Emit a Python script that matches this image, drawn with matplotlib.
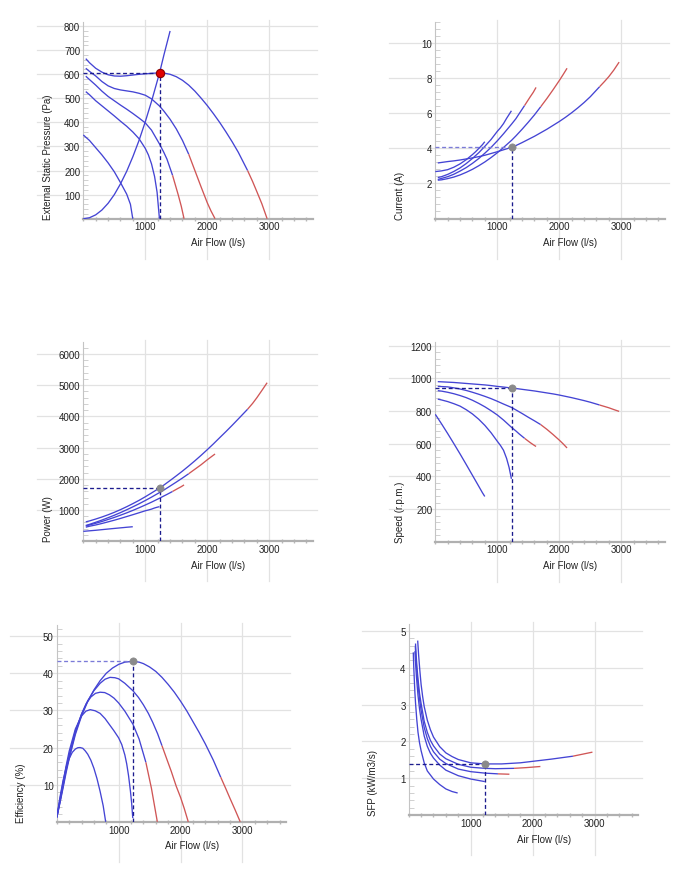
import matplotlib
matplotlib.use('Agg')
import matplotlib.pyplot as plt
from matplotlib.ticker import MultipleLocator

plt.rcParams['font.family'] = ['Liberation Sans', 'DejaVu Sans']

# ---------------- data ----------------
op_flow = 1230
op_pressure = 606
op_current = 4.05
op_power = 1705
op_speed = 941
op_eff = 43.2
op_sfp = 1.39

x_ticks = [1000, 2000, 3000]

# red (out of range) segments start at these flows
red_from_A = 2650
red_from_B = 1700
red_from_C = 1440

# curve A
flow_A = [40, 100, 200, 300, 400, 500, 600, 700, 800, 900, 1000, 1100, 1230, 1300, 1400, 1500,
          1600, 1700, 1800, 1900, 2000, 2100, 2200, 2300, 2400, 2500, 2650, 2730, 2800, 2880, 2965]
pressure_A = [665, 648, 625, 609, 598, 593, 592, 594, 597, 600, 602, 604, 606, 605, 600, 590,
              575, 555, 530, 501, 470, 436, 400, 361, 320, 276, 200, 155, 112, 62, 0]
current_A = [3.16, 3.19, 3.24, 3.28, 3.33, 3.39, 3.45, 3.52, 3.6, 3.7, 3.8, 3.91, 4.05, 4.15, 4.32, 4.5,
             4.68, 4.88, 5.08, 5.3, 5.52, 5.76, 6.02, 6.3, 6.6, 6.93, 7.5, 7.8, 8.08, 8.45, 8.9]
power_A = [620, 650, 710, 775, 847, 925, 1012, 1105, 1205, 1310, 1424, 1545, 1705, 1800, 1945, 2095,
           2248, 2410, 2577, 2752, 2934, 3122, 3318, 3512, 3712, 3918, 4230, 4415, 4600, 4830, 5080]
speed_A = [980, 979, 977, 975, 972, 969, 966, 963, 960, 956, 951, 947, 941, 938, 933, 928,
           923, 917, 911, 905, 898, 890, 882, 873, 864, 854, 837, 828, 820, 809, 798]

# curve B
flow_B = [40, 100, 200, 300, 400, 500, 600, 700, 800, 900, 1000, 1100, 1230, 1300, 1400, 1500,
          1600, 1700, 1800, 1900, 2000, 2060, 2125]
pressure_B = [625, 612, 593, 570, 552, 541, 535, 531, 527, 521, 513, 498, 468, 447, 413, 373,
              325, 268, 200, 132, 66, 32, 0]
current_B = [2.18, 2.2, 2.27, 2.36, 2.48, 2.63, 2.8, 3.0, 3.22, 3.47, 3.74, 4.04, 4.45, 4.7, 5.08, 5.48,
             5.9, 6.36, 6.83, 7.33, 7.85, 8.18, 8.55]
power_B = [504, 540, 607, 677, 753, 832, 917, 1007, 1102, 1200, 1304, 1412, 1560, 1640, 1767, 1895,
           2026, 2163, 2307, 2451, 2610, 2700, 2795]
speed_B = [951, 950, 948, 942, 935, 926, 915, 903, 890, 876, 860, 843, 822, 807, 785, 762,
           740, 717, 688, 656, 622, 600, 574]

# curve C
flow_C = [40, 100, 200, 300, 400, 500, 600, 700, 800, 900, 1000, 1100, 1230, 1300, 1350, 1440,
          1530, 1580, 1625]
pressure_C = [592, 578, 555, 530, 508, 490, 472, 455, 437, 418, 398, 368, 310, 275, 247, 180,
              100, 52, 0]
current_C = [2.22, 2.28, 2.38, 2.52, 2.7, 2.9, 3.14, 3.41, 3.72, 4.05, 4.42, 4.82, 5.37, 5.68, 5.95, 6.43,
             6.92, 7.18, 7.46]
power_C = [490, 520, 574, 632, 696, 762, 834, 908, 988, 1072, 1160, 1251, 1378, 1450, 1500, 1595,
           1695, 1748, 1804]
speed_C = [925, 922, 915, 906, 895, 882, 866, 847, 826, 802, 776, 745, 700, 678, 661, 633,
           607, 594, 583]

# curve D
flow_D = [40, 100, 200, 300, 400, 500, 600, 700, 800, 900, 1000, 1050, 1100, 1150, 1190, 1228]
pressure_D = [528, 515, 490, 469, 448, 427, 405, 384, 360, 332, 292, 265, 228, 175, 110, 0]
current_D = [2.33, 2.38, 2.51, 2.68, 2.88, 3.13, 3.42, 3.74, 4.11, 4.5, 4.96, 5.16, 5.4, 5.7, 5.92, 6.13]
power_D = [450, 480, 520, 568, 620, 673, 730, 790, 850, 912, 975, 1000, 1028, 1065, 1088, 1107]
speed_D = [873, 868, 858, 845, 830, 808, 782, 750, 712, 667, 615, 590, 560, 510, 455, 385]

# curve E
flow_E = [0, 100, 200, 300, 400, 500, 600, 650, 700, 760, 798]
pressure_E = [348, 325, 295, 265, 232, 195, 150, 126, 102, 60, 0]
current_E = [2.67, 2.71, 2.78, 2.92, 3.11, 3.35, 3.64, 3.8, 3.98, 4.2, 4.37]
power_E = [316, 333, 350, 370, 390, 409, 428, 437, 447, 457, 464]
speed_E = [780, 722, 662, 600, 537, 472, 406, 373, 340, 300, 277]

# system curve
system_flow = [0, 100, 200, 300, 400, 500, 600, 700, 800, 900, 1000, 1100, 1230, 1300, 1400]
system_pressure = [0, 4, 16, 36, 64, 100, 145, 197, 258, 326, 403, 487, 606, 680, 780]

# efficiency curves
eff_flow_A = [0, 50, 100, 150, 200, 300, 400, 500, 600, 700, 800, 900, 1000, 1100, 1230, 1330, 1400,
              1500, 1600, 1700, 1800, 1900, 2000, 2100, 2200, 2300, 2400, 2530, 2650, 2730, 2800,
              2880, 2965]
eff_A = [1.2, 5, 9, 13.2, 17, 23.5, 28.5, 32.4, 35.5, 38, 40, 41.4, 42.4, 43, 43.2, 43, 42.6,
         41.7, 40.5, 38.9, 37, 34.9, 32.5, 29.9, 27, 24.1, 21, 16.6, 12, 9, 6.3, 3.3, 0]
eff_flow_B = [0, 50, 100, 150, 200, 300, 400, 500, 600, 700, 780, 860, 940, 1000, 1100, 1230, 1320,
              1400, 1480, 1550, 1630, 1700, 1780, 1850, 1930, 2000, 2060, 2125]
eff_B = [1.2, 5.2, 9.5, 13.8, 17.5, 24, 29, 32.6, 35.3, 37.3, 38.4, 38.9, 38.8, 38.5, 37.3, 35.3, 33.5,
         31.5, 29.2, 26.8, 23.7, 20.5, 16.8, 13.6, 9.6, 6.6, 3.6, 0]
eff_flow_C = [0, 50, 100, 150, 200, 300, 400, 475, 550, 625, 700, 775, 850, 925, 1000, 1100, 1230,
              1330, 1440, 1530, 1625]
eff_C = [1.2, 5.5, 10, 14.5, 18, 24.5, 29, 31.8, 33.6, 34.6, 34.9, 34.8, 34.2, 33.3, 32, 29.8, 26.3,
         22.3, 16, 9, 0]
eff_flow_D = [0, 50, 100, 150, 200, 300, 400, 470, 540, 620, 700, 780, 850, 920, 1000, 1050, 1100,
              1130, 1160, 1190, 1210, 1228]
eff_D = [1.2, 6, 10.5, 15, 19, 25, 28.5, 29.8, 30.2, 29.9, 29.2, 27.8, 26.2, 24.6, 22.6, 20.8, 18,
         15.6, 12.4, 8.3, 5, 1]
eff_flow_E = [0, 50, 100, 150, 200, 250, 300, 340, 376, 420, 460, 500, 550, 600, 650, 700, 750, 790]
eff_E = [1.2, 6.5, 11, 14.5, 17, 18.7, 19.6, 19.95, 20, 19.8, 19.1, 18.2, 16.6, 14.4, 11.6, 8.2, 4.3, 0]

# SFP curves
sfp_flow_A = [145, 160, 180, 200, 225, 250, 300, 350, 400, 500, 600, 700, 800, 1000, 1230, 1500,
              1800, 2000, 2300, 2650, 2965]
sfp_A = [4.74, 4.35, 3.92, 3.55, 3.22, 2.95, 2.58, 2.32, 2.12, 1.86, 1.69, 1.59, 1.51, 1.42, 1.39,
         1.39, 1.42, 1.46, 1.52, 1.6, 1.71]
sfp_flow_B = [110, 120, 135, 150, 175, 200, 250, 300, 350, 400, 500, 600, 800, 1000, 1230, 1400,
              1700, 1900, 2125]
sfp_B = [4.66, 4.35, 3.98, 3.7, 3.3, 3.03, 2.55, 2.25, 2.03, 1.88, 1.66, 1.53, 1.38, 1.3, 1.27, 1.26,
         1.27, 1.29, 1.32]
sfp_flow_C = [106, 115, 130, 150, 175, 200, 250, 300, 350, 400, 500, 600, 800, 1000, 1230, 1440, 1625]
sfp_C = [4.6, 4.3, 3.95, 3.55, 3.15, 2.85, 2.38, 2.08, 1.87, 1.72, 1.52, 1.4, 1.25, 1.18, 1.14, 1.12, 1.11]
sfp_flow_D = [100, 110, 125, 150, 175, 200, 250, 300, 350, 400, 500, 600, 800, 1000, 1228]
sfp_D = [4.45, 4.15, 3.75, 3.25, 2.88, 2.6, 2.15, 1.87, 1.68, 1.55, 1.36, 1.22, 1.07, 0.98, 0.91]
sfp_flow_E = [74, 82, 90, 100, 110, 130, 150, 175, 200, 250, 300, 400, 500, 600, 700, 790]
sfp_E = [4.42, 4.0, 3.7, 3.33, 3.05, 2.6, 2.25, 1.96, 1.75, 1.42, 1.2, 0.98, 0.83, 0.71, 0.64, 0.6]

# ---------------- style ----------------
W, H = 687, 878
BLUE = '#4444d4'
RED = '#d05656'
NAVY = '#1c1c8e'
LIGHTNAVY = '#7b7bd8'
GRID = '#e2e2e2'
TXT = '#222222'
FS = 7

fig = plt.figure(figsize=(W / 100, H / 100), dpi=100)


def make_axes(left, right, top, bottom, ymax, yticks, ylabel):
    ax = fig.add_axes([left / W, 1 - bottom / H, (right - left) / W, (bottom - top) / H])
    wpx, hpx = right - left, bottom - top
    ax.set_xlim(0, 3705)
    ax.set_ylim(0, ymax)
    for s in ['top', 'right']:
        ax.spines[s].set_visible(False)
    ax.spines['left'].set_color('#c4c4c4')
    ax.spines['left'].set_linewidth(0.8)
    ax.spines['bottom'].set_color('#b0b0b0')
    ax.spines['bottom'].set_linewidth(1.6)
    ax.set_xticks(x_ticks)
    ax.set_xticklabels([str(v) for v in x_ticks])
    ax.set_yticks(yticks)
    ax.set_yticklabels([('%g' % v) for v in yticks])
    ax.xaxis.set_minor_locator(MultipleLocator(200))
    ax.yaxis.set_minor_locator(MultipleLocator((yticks[1] - yticks[0]) / 5))
    ax.tick_params(which='major', length=0, labelsize=FS, labelcolor=TXT)
    ax.tick_params(axis='y', which='major', pad=2.2)
    ax.tick_params(axis='x', which='major', pad=2.0)
    ax.tick_params(axis='x', which='minor', direction='inout', length=3, width=1, color='#b8b8b8')
    ax.tick_params(axis='y', which='minor', direction='in', length=3.5, width=0.7, color='#d0d0d0')
    hx0, hx1 = -46.5 / wpx, 1 + 4 / wpx
    vy0, vy1 = -40 / hpx, 1 + 2 / hpx
    for yv in yticks:
        ax.plot([hx0, hx1], [yv, yv], transform=ax.get_yaxis_transform(), color=GRID,
                lw=0.9, clip_on=False, zorder=0.5)
    for xv in x_ticks:
        ax.plot([xv, xv], [vy0, vy1], transform=ax.get_xaxis_transform(), color=GRID,
                lw=0.9, clip_on=False, zorder=0.5)
    ax.text(135 / wpx, -23.5 / hpx, 'Air Flow (l/s)', transform=ax.transAxes,
            ha='center', va='center', fontsize=FS, color=TXT)
    ax.text(-35.5 / wpx, 0, ylabel, transform=ax.transAxes, rotation=90,
            ha='center', va='bottom', fontsize=FS, color=TXT)
    return ax


def curve(ax, xs, ys, red_from=None):
    kw = dict(lw=0.95, zorder=3, solid_capstyle='butt', solid_joinstyle='round')
    if red_from is None:
        ax.plot(xs, ys, color=BLUE, **kw)
    else:
        i = xs.index(red_from)
        ax.plot(xs[:i + 1], ys[:i + 1], color=BLUE, **kw)
        ax.plot(xs[i:], ys[i:], color=RED, **kw)


def op_point(ax, yv, hcolor=NAVY, red=False):
    ax.plot([0, op_flow], [yv, yv], color=hcolor, lw=0.95, ls=(0, (3, 2)), zorder=4)
    ax.plot([op_flow, op_flow], [0, yv], color=NAVY, lw=0.95, ls=(0, (3, 2)), zorder=4)
    if red:
        ax.plot([op_flow], [yv], 'o', ms=6, mfc='#e00000', mec='#8a0000', mew=0.8, zorder=6)
    else:
        ax.plot([op_flow], [yv], 'o', ms=5.2, mfc='#8a8a8a', mec='#8a8a8a', mew=0.5, zorder=6)


# Panel 1: pressure
ax1 = make_axes(83.3, 313.0, 23.3, 219.7, 816, [100, 200, 300, 400, 500, 600, 700, 800],
                'External Static Pressure (Pa)')
curve(ax1, flow_A, pressure_A, red_from_A)
curve(ax1, flow_B, pressure_B, red_from_B)
curve(ax1, flow_C, pressure_C, red_from_C)
curve(ax1, flow_D, pressure_D)
curve(ax1, flow_E, pressure_E)
curve(ax1, system_flow, system_pressure)
op_point(ax1, op_pressure, red=True)

# Panel 2: current
ax2 = make_axes(435.3, 665.0, 22.7, 219.5, 11.2, [2, 4, 6, 8, 10], 'Current (A)')
curve(ax2, flow_A, current_A, red_from_A)
curve(ax2, flow_B, current_B, red_from_B)
curve(ax2, flow_C, current_C, red_from_C)
curve(ax2, flow_D, current_D)
curve(ax2, flow_E, current_E)
op_point(ax2, op_current, hcolor=LIGHTNAVY)

# Panel 3: power
ax3 = make_axes(83.3, 313.0, 343.3, 542.2, 6375, [1000, 2000, 3000, 4000, 5000, 6000], 'Power (W)')
curve(ax3, flow_A, power_A, red_from_A)
curve(ax3, flow_B, power_B, red_from_B)
curve(ax3, flow_C, power_C, red_from_C)
curve(ax3, flow_D, power_D)
curve(ax3, flow_E, power_E)
op_point(ax3, op_power)

# Panel 4: speed
ax4 = make_axes(435.3, 665.0, 343.3, 542.7, 1221, [200, 400, 600, 800, 1000, 1200], 'Speed (r.p.m.)')
curve(ax4, flow_A, speed_A, red_from_A)
curve(ax4, flow_B, speed_B, red_from_B)
curve(ax4, flow_C, speed_C, red_from_C)
curve(ax4, flow_D, speed_D)
curve(ax4, flow_E, speed_E)
op_point(ax4, op_speed)

# Panel 5: efficiency
ax5 = make_axes(56.8, 286.0, 626.0, 822.8, 53, [10, 20, 30, 40, 50], 'Efficiency (%)')
curve(ax5, eff_flow_A, eff_A, red_from_A)
curve(ax5, eff_flow_B, eff_B, red_from_B)
curve(ax5, eff_flow_C, eff_C, red_from_C)
curve(ax5, eff_flow_D, eff_D)
curve(ax5, eff_flow_E, eff_E)
op_point(ax5, op_eff, hcolor=LIGHTNAVY)

# Panel 6: SFP
ax6 = make_axes(408.7, 638.3, 625.0, 816.1, 5.19, [1, 2, 3, 4, 5], 'SFP (kW/m3/s)')
curve(ax6, sfp_flow_A, sfp_A, red_from_A)
curve(ax6, sfp_flow_B, sfp_B, red_from_B)
curve(ax6, sfp_flow_C, sfp_C, red_from_C)
curve(ax6, sfp_flow_D, sfp_D)
curve(ax6, sfp_flow_E, sfp_E)
op_point(ax6, op_sfp)

fig.savefig('out.png', dpi=100)
